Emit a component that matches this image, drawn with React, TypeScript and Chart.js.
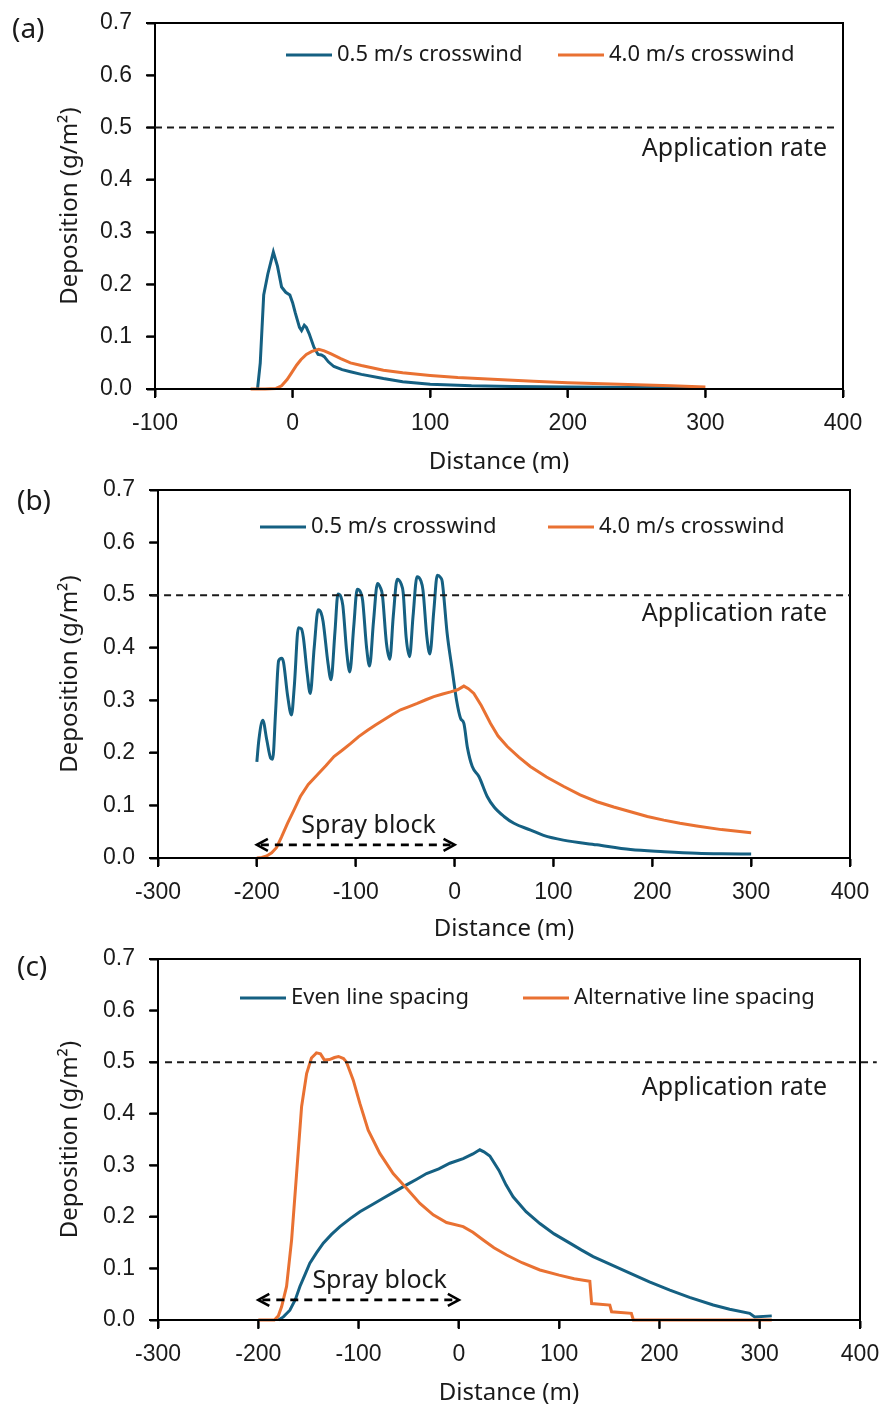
import React, { useEffect, useRef } from "react";
import { Chart, registerables } from "chart.js";

Chart.register(...registerables);

const BLUE = "#156082";
const ORANGE = "#E97132";
const INK = "#1a1a1a";
const TICK_FONT = '"Liberation Sans", Arial, sans-serif';
const TEXT_FONT = '"Noto Sans", "Open Sans", sans-serif';

const APP_RATE = 0.5;
const Y_TICKS_MAX = 0.7;
const Y_STEP = 0.1;
const X_STEP = 100;
const OVERHANG = 14; // extra canvas height below each panel (overlaps next panel, transparent)

// ---------- Panel (a) ----------
const aBlueX = [-25.5, -23.5, -21, -18, -14, -11, -8, -5, -2, 0, 2, 5, 6.5, 8.5, 10, 12, 15.5, 18.5, 21, 23, 26, 30, 36, 42, 50, 66, 80, 100, 130, 160, 200, 250, 290];
const aBlueY = [0, 0.05, 0.18, 0.22, 0.262, 0.235, 0.195, 0.185, 0.18, 0.165, 0.145, 0.118, 0.112, 0.122, 0.118, 0.106, 0.08, 0.066, 0.065, 0.062, 0.052, 0.043, 0.037, 0.033, 0.028, 0.02, 0.014, 0.009, 0.006, 0.005, 0.004, 0.003, 0.002];
const aOrangeX = [-30.5, -20, -12, -8, -4, -1, 3, 6, 10, 14, 19, 23, 28, 35, 42, 50, 66, 80, 100, 120, 149, 175, 200, 225, 250, 275, 300];
const aOrangeY = [0, 0, 0.001, 0.006, 0.018, 0.03, 0.046, 0.056, 0.066, 0.072, 0.076, 0.073, 0.067, 0.058, 0.05, 0.045, 0.036, 0.031, 0.026, 0.022, 0.018, 0.015, 0.012, 0.01, 0.008, 0.006, 0.004];

// ---------- Panel (b) ----------
const bBlueX = [-200, -198, -194, -190, -186, -184, -181, -178, -175, -173, -169, -165, -162, -158, -155, -153, -149, -146, -142, -138, -135, -133, -128, -125, -121, -118, -115, -113, -109, -106, -102, -98.5, -95, -93, -89, -86, -82, -78, -75, -73, -69, -65.5, -62, -58, -54, -52, -49, -45.5, -42, -38, -34, -32, -28, -25, -21, -17.5, -14, -12.5, -7.5, -2.4, 2, 6, 9.4, 13, 17.9, 24.6, 33, 40, 50, 60, 77, 90, 110, 144, 178, 212, 245, 270, 300];
const bBlueY = [0.183, 0.224, 0.262, 0.225, 0.19, 0.188, 0.28, 0.375, 0.38, 0.372, 0.31, 0.272, 0.33, 0.438, 0.436, 0.42, 0.35, 0.313, 0.4, 0.472, 0.466, 0.45, 0.37, 0.339, 0.43, 0.502, 0.497, 0.48, 0.39, 0.354, 0.44, 0.511, 0.505, 0.49, 0.4, 0.365, 0.45, 0.522, 0.514, 0.5, 0.41, 0.378, 0.46, 0.53, 0.521, 0.505, 0.42, 0.383, 0.46, 0.535, 0.527, 0.51, 0.42, 0.388, 0.47, 0.538, 0.533, 0.526, 0.427, 0.358, 0.3, 0.266, 0.256, 0.21, 0.174, 0.155, 0.117, 0.097, 0.079, 0.066, 0.053, 0.043, 0.034, 0.025, 0.016, 0.012, 0.009, 0.008, 0.0076];
const bOrangeX = [-200, -195, -190, -185, -180, -175, -169, -162, -156, -148, -139, -130, -122, -113, -105, -97, -88, -80, -71.5, -63, -54.6, -46, -37.7, -29, -21, -12, -4, 3, 9.4, 14, 19.5, 27, 36.4, 44, 53.3, 65, 76.6, 93, 110.5, 127, 144, 161, 178, 195, 211.6, 228, 245, 270, 300];
const bOrangeY = [0, 0.001, 0.004, 0.01, 0.02, 0.04, 0.066, 0.093, 0.117, 0.14, 0.158, 0.176, 0.193, 0.206, 0.218, 0.231, 0.243, 0.253, 0.263, 0.273, 0.282, 0.288, 0.294, 0.301, 0.307, 0.312, 0.316, 0.32, 0.327, 0.322, 0.313, 0.29, 0.256, 0.232, 0.212, 0.192, 0.174, 0.154, 0.136, 0.12, 0.107, 0.097, 0.088, 0.079, 0.072, 0.066, 0.061, 0.054, 0.048];

// ---------- Panel (c) ----------
const cEvenX = [-180, -175, -168.5, -163, -158.5, -153, -148.6, -142, -135.2, -127, -118.6, -108, -98.7, -87, -75.5, -64, -52.2, -42, -32.2, -20, -9, 4.3, 14, 20.9, 25, 30.9, 40, 47, 54.1, 67, 80.8, 95, 110.7, 122, 133.9, 150, 170.5, 190, 210.4, 230, 253.6, 270, 290, 295, 312];
const cEvenY = [0, 0.006, 0.019, 0.04, 0.065, 0.09, 0.11, 0.13, 0.149, 0.166, 0.181, 0.197, 0.21, 0.223, 0.236, 0.249, 0.262, 0.273, 0.284, 0.293, 0.304, 0.313, 0.322, 0.33, 0.326, 0.318, 0.29, 0.262, 0.239, 0.21, 0.187, 0.167, 0.149, 0.136, 0.123, 0.109, 0.091, 0.074, 0.058, 0.044, 0.029, 0.021, 0.013, 0.006, 0.008];
const cAltX = [-200, -184, -180, -176.7, -171.8, -166.8, -161.8, -156.8, -151.8, -147, -142, -138, -134, -129, -124, -120, -115, -112, -105.3, -98.7, -90.4, -78.8, -65.5, -52, -38.8, -25.6, -12.3, 4.3, 14, 24.3, 35, 47.6, 63, 80.8, 100, 115, 130.6, 132.4, 150.5, 152.3, 172, 174, 250, 312];
const cAltY = [0, 0, 0.008, 0.026, 0.065, 0.155, 0.284, 0.414, 0.478, 0.508, 0.518, 0.516, 0.504, 0.505, 0.509, 0.511, 0.507, 0.5, 0.465, 0.42, 0.368, 0.323, 0.284, 0.255, 0.226, 0.204, 0.189, 0.181, 0.17, 0.155, 0.14, 0.126, 0.111, 0.097, 0.087, 0.08, 0.075, 0.032, 0.029, 0.016, 0.013, 0, 0, 0];

type Series = { name: string; xs: number[]; ys: number[]; color: string; smooth?: boolean };
type PanelCfg = {
  tag: string;
  height: number;
  area: { left: number; top: number; right: number; bottom: number };
  xMin: number;
  xMax: number;
  series: Series[];
  legendX: number[];
  legendY: number;
  rateFrom: number;
  rateTo: number;
  rateTextY: number;
  spray?: { arrowY: number; textX: number; textY: number };
  tagX: number;
  tagY: number;
  xTitleY: number;
};

const panels: PanelCfg[] = [
  {
    tag: "(a)",
    height: 470,
    area: { left: 155, top: 23, right: 843, bottom: 389 },
    xMin: -100,
    xMax: 400,
    series: [
      { name: "0.5 m/s crosswind", xs: aBlueX, ys: aBlueY, color: BLUE },
      { name: "4.0 m/s crosswind", xs: aOrangeX, ys: aOrangeY, color: ORANGE },
    ],
    legendX: [286, 558],
    legendY: 55,
    rateFrom: -100,
    rateTo: 395.6,
    rateTextY: 148.5,
    tagX: 12,
    tagY: 30,
    xTitleY: 462,
  },
  {
    tag: "(b)",
    height: 467,
    area: { left: 158, top: 20, right: 850, bottom: 388 },
    xMin: -300,
    xMax: 400,
    series: [
      { name: "0.5 m/s crosswind", xs: bBlueX, ys: bBlueY, color: BLUE, smooth: true },
      { name: "4.0 m/s crosswind", xs: bOrangeX, ys: bOrangeY, color: ORANGE },
    ],
    legendX: [260, 548],
    legendY: 57,
    rateFrom: -306,
    rateTo: 400,
    rateTextY: 143.5,
    spray: { arrowY: 0.025, textX: -87, textY: 0.061 },
    tagX: 17,
    tagY: 32,
    xTitleY: 459,
  },
  {
    tag: "(c)",
    height: 468,
    area: { left: 158, top: 22, right: 860, bottom: 383 },
    xMin: -300,
    xMax: 400,
    series: [
      { name: "Even line spacing", xs: cEvenX, ys: cEvenY, color: BLUE },
      { name: "Alternative line spacing", xs: cAltX, ys: cAltY, color: ORANGE },
    ],
    legendX: [240, 523],
    legendY: 61,
    rateFrom: -293,
    rateTo: 416.7,
    rateTextY: 150.5,
    spray: { arrowY: 0.039, textX: -79, textY: 0.075 },
    tagX: 17,
    tagY: 31,
    xTitleY: 456.5,
  },
];

function drawArrowHead(ctx: CanvasRenderingContext2D, x: number, y: number, dir: number) {
  ctx.beginPath();
  ctx.moveTo(x + dir * -11, y - 6);
  ctx.lineTo(x, y);
  ctx.lineTo(x + dir * -11, y + 6);
  ctx.stroke();
}

function makeExtras(p: PanelCfg) {
  return {
    id: "extras",
    afterDatasetsDraw(chart: any) {
      const { ctx, chartArea: ca, scales } = chart;
      const xs = scales.x;
      const ys = scales.y;
      ctx.save();
      // frame
      ctx.strokeStyle = "#000";
      ctx.lineWidth = 2;
      ctx.setLineDash([]);
      ctx.strokeRect(ca.left, ca.top, ca.right - ca.left, ca.bottom - ca.top);

      // tick marks (outside the frame)
      xs.ticks.forEach((t: any) => {
        const px = xs.getPixelForValue(t.value);
        ctx.beginPath();
        ctx.moveTo(px, ca.bottom);
        ctx.lineTo(px, ca.bottom + 9);
        ctx.stroke();
      });
      ys.ticks.forEach((t: any) => {
        const py = ys.getPixelForValue(t.value);
        ctx.beginPath();
        ctx.moveTo(ca.left - 9, py);
        ctx.lineTo(ca.left, py);
        ctx.stroke();
      });

      // application rate line
      const yr = ys.getPixelForValue(APP_RATE);
      ctx.strokeStyle = INK;
      ctx.lineWidth = 2;
      ctx.setLineDash([7, 5]);
      ctx.beginPath();
      ctx.moveTo(xs.getPixelForValue(p.rateFrom), yr);
      ctx.lineTo(xs.getPixelForValue(p.rateTo), yr);
      ctx.stroke();
      ctx.setLineDash([]);

      ctx.fillStyle = INK;
      ctx.font = `25px ${TEXT_FONT}`;
      ctx.textAlign = "right";
      ctx.textBaseline = "middle";
      ctx.fillText("Application rate", 827, p.rateTextY);

      // legend
      ctx.font = `22px ${TEXT_FONT}`;
      ctx.textAlign = "left";
      p.series.forEach((s, i) => {
        const lx = p.legendX[i];
        ctx.strokeStyle = s.color;
        ctx.lineWidth = 3;
        ctx.beginPath();
        ctx.moveTo(lx, p.legendY);
        ctx.lineTo(lx + 46, p.legendY);
        ctx.stroke();
        ctx.fillStyle = INK;
        ctx.fillText(s.name, lx + 51, p.legendY);
      });

      // spray block
      if (p.spray) {
        const ay = ys.getPixelForValue(p.spray.arrowY);
        const x0 = xs.getPixelForValue(-200);
        const x1 = xs.getPixelForValue(0);
        ctx.strokeStyle = "#000";
        ctx.lineWidth = 2.6;
        ctx.setLineDash([8, 6]);
        ctx.beginPath();
        ctx.moveTo(x0 + 4, ay);
        ctx.lineTo(x1 - 4, ay);
        ctx.stroke();
        ctx.setLineDash([]);
        drawArrowHead(ctx, x0, ay, -1);
        drawArrowHead(ctx, x1, ay, 1);
        ctx.fillStyle = INK;
        ctx.font = `25px ${TEXT_FONT}`;
        ctx.textAlign = "center";
        ctx.textBaseline = "middle";
        ctx.fillText("Spray block", xs.getPixelForValue(p.spray.textX), ys.getPixelForValue(p.spray.textY));
      }

      // panel tag
      ctx.fillStyle = INK;
      ctx.font = `28px ${TEXT_FONT}`;
      ctx.textAlign = "left";
      ctx.textBaseline = "middle";
      ctx.fillText(p.tag, p.tagX, p.tagY);
      ctx.restore();
    },
  };
}

function Panel({ p, last }: { p: PanelCfg; last: boolean }) {
  const ref = useRef<HTMLCanvasElement>(null);
  const canvasH = p.height + OVERHANG;
  useEffect(() => {
    if (!ref.current) return;
    const datasets = p.series.map((s, i) => ({
      label: s.name,
      data: s.xs.map((x, k) => ({ x, y: s.ys[k] })),
      borderColor: s.color,
      backgroundColor: s.color,
      borderWidth: 3,
      pointRadius: 0,
      fill: false,
      tension: 0,
      cubicInterpolationMode: s.smooth ? ("monotone" as const) : ("default" as const),
      clip: 6,
      order: i === 1 ? 0 : 1,
    }));
    const chart = new Chart(ref.current, {
      type: "line",
      data: { datasets },
      options: {
        responsive: false,
        animation: false,
        layout: {
          padding: { left: 0, top: p.area.top, right: 882 - p.area.right, bottom: 0 },
        },
        plugins: { legend: { display: false }, tooltip: { enabled: false } },
        scales: {
          x: {
            type: "linear",
            min: p.xMin,
            max: p.xMax,
            ticks: {
              stepSize: X_STEP,
              color: INK,
              font: { family: TICK_FONT, size: 23 },
              padding: 13,
              callback: (v: any) => String(v),
            },
            grid: { drawOnChartArea: false, drawTicks: true, tickLength: 8, tickWidth: 2, tickColor: "#000" },
            border: { display: true, color: "#000", width: 2 },
            title: {
              display: true,
              text: "Distance (m)",
              color: INK,
              font: { family: TEXT_FONT, size: 24 },
              padding: { top: 0, bottom: canvasH - p.xTitleY - 14.4 },
            },
            afterFit: (s: any) => {
              s.height = canvasH - p.area.bottom;
              s.paddingLeft = 0;
              s.paddingRight = 0;
            },
          },
          y: {
            type: "linear",
            min: 0,
            max: Y_TICKS_MAX,
            ticks: {
              stepSize: Y_STEP,
              color: INK,
              font: { family: TICK_FONT, size: 23 },
              padding: 15,
              callback: (v: any) => Number(v).toFixed(1),
            },
            grid: { drawOnChartArea: false, drawTicks: true, tickLength: 8, tickWidth: 2, tickColor: "#000" },
            border: { display: true, color: "#000", width: 2 },
            title: {
              display: true,
              text: "Deposition (g/m²)",
              color: INK,
              font: { family: TEXT_FONT, size: 24 },
              padding: { top: 55.6, bottom: 0 },
            },
            afterFit: (s: any) => {
              s.width = p.area.left;
              s.paddingTop = 0;
              s.paddingBottom = 0;
            },
          },
        },
      },
      plugins: [makeExtras(p)],
    });
    return () => chart.destroy();
  }, [p]);
  return (
    <div style={{ width: 882, height: p.height, position: "relative", overflow: "visible" }}>
      <canvas
        ref={ref}
        width={882}
        height={canvasH}
        style={{ display: "block", position: "absolute", left: 0, top: 0, zIndex: last ? 0 : 1 }}
      />
    </div>
  );
}

export default function App() {
  return (
    <div style={{ position: "absolute", left: 0, top: 0, width: 882, height: 1405, background: "#fff", overflow: "hidden" }}>
      {panels.map((p, i) => (
        <Panel key={p.tag} p={p} last={i === panels.length - 1} />
      ))}
    </div>
  );
}
